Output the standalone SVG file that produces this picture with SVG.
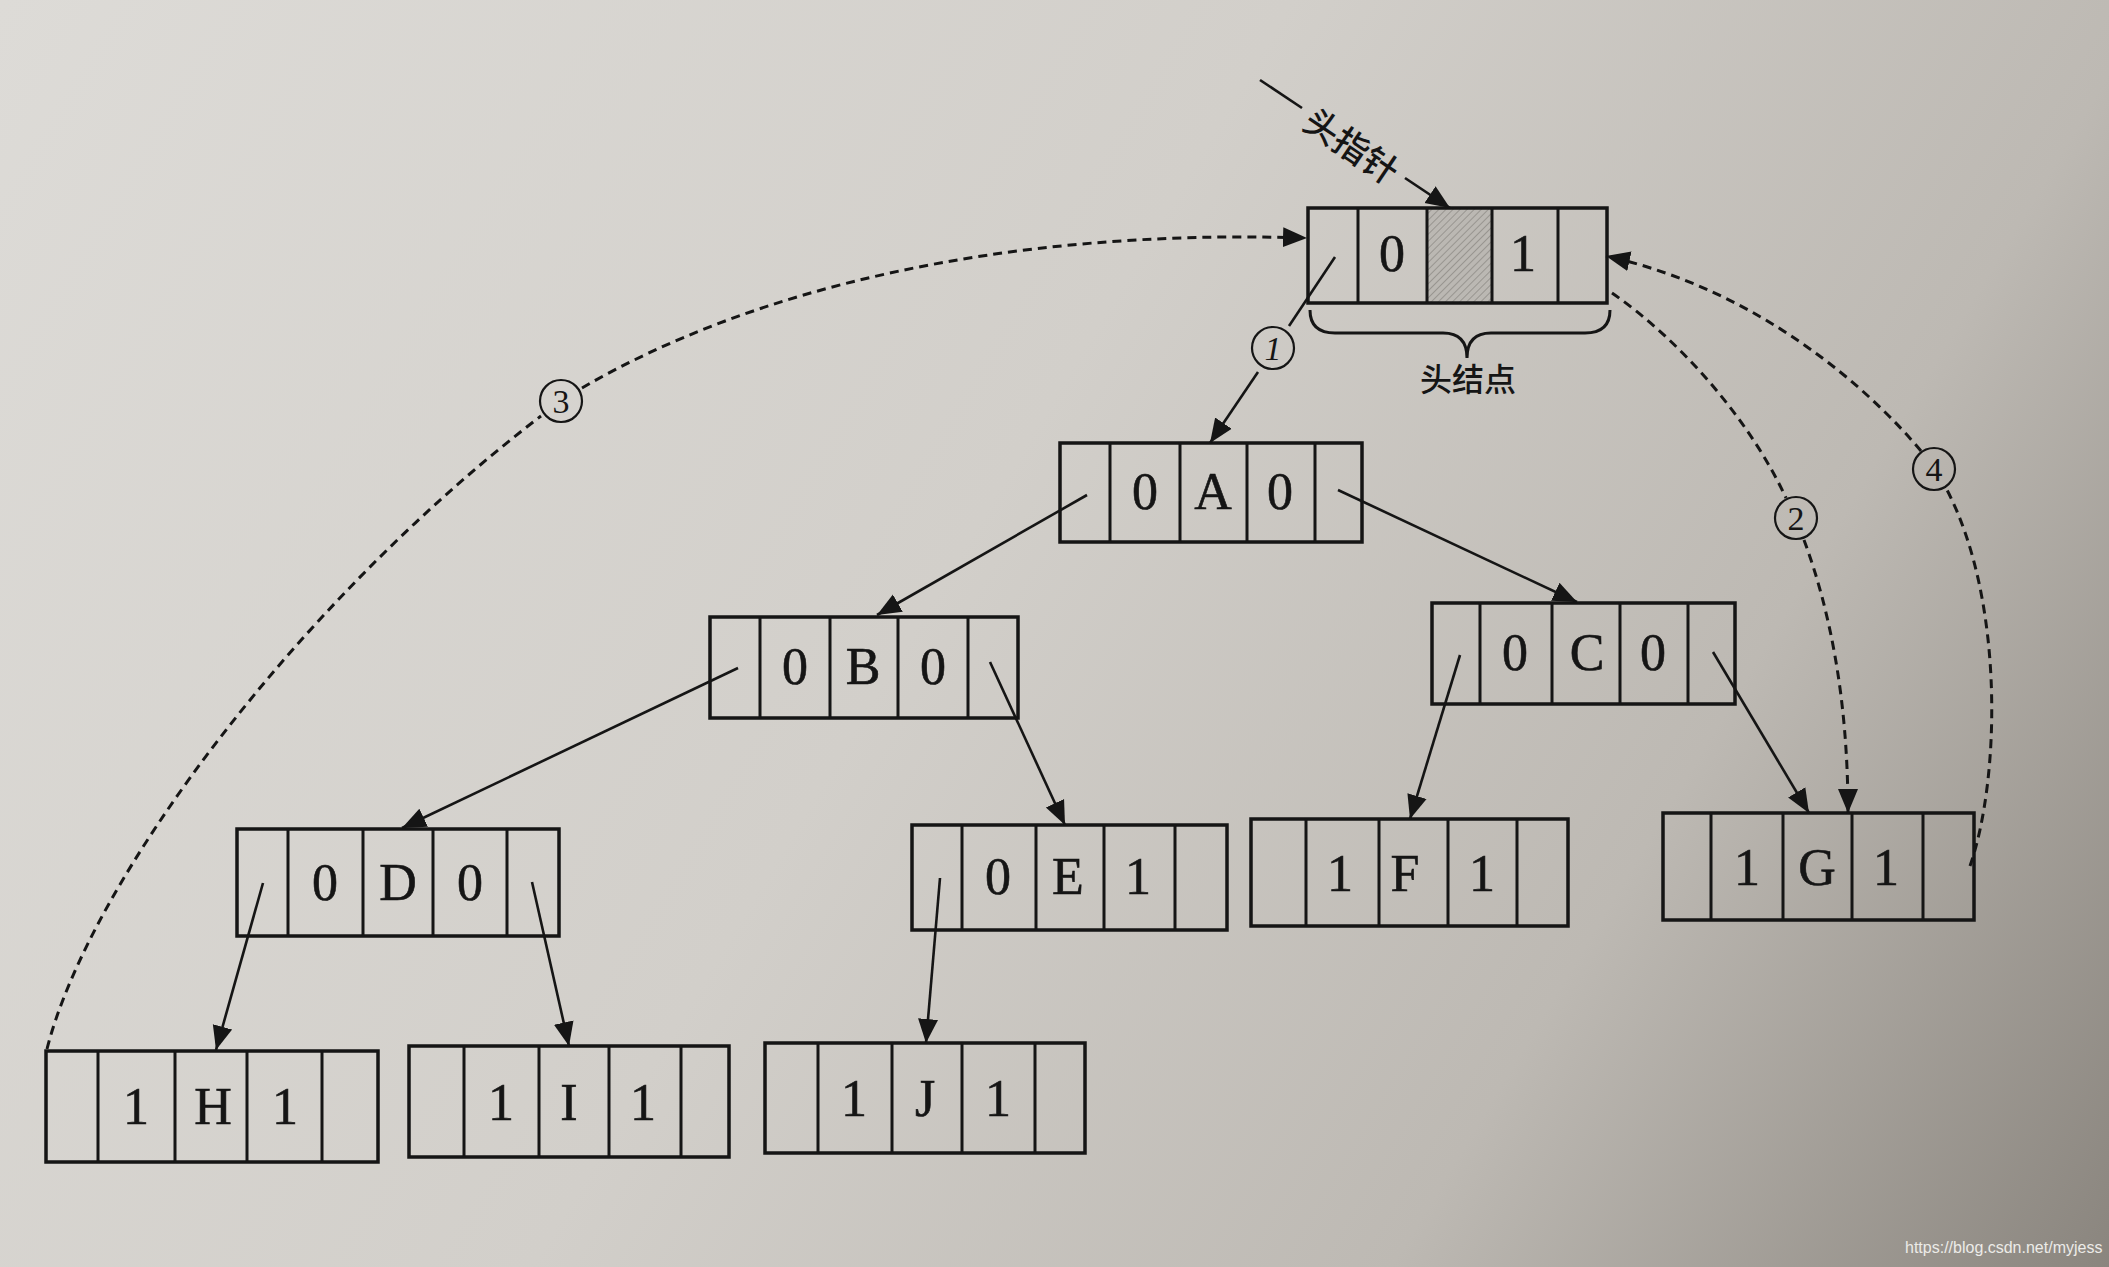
<svg xmlns="http://www.w3.org/2000/svg" width="2109" height="1267" viewBox="0 0 2109 1267">
<defs>
<linearGradient id="bg" gradientUnits="userSpaceOnUse" x1="0" y1="0" x2="2109" y2="1267">
<stop offset="0" stop-color="#dddbd7"/>
<stop offset="0.45" stop-color="#d2cfca"/>
<stop offset="0.75" stop-color="#bdb9b3"/>
<stop offset="1" stop-color="#8a857e"/>
</linearGradient>
<pattern id="hatch" patternUnits="userSpaceOnUse" width="5" height="5" patternTransform="rotate(45)">
<rect width="5" height="5" fill="#bbb8b3"/>
<line x1="0" y1="0" x2="0" y2="5" stroke="#8d8a85" stroke-width="1.5"/>
</pattern>
<marker id="ah" markerUnits="userSpaceOnUse" markerWidth="26" markerHeight="22" refX="24" refY="11" orient="auto">
<path d="M0,1 L24,11 L0,21 z" fill="#151515"/>
</marker>
</defs>
<style>
.box{fill:none;stroke:#151515;stroke-width:3.5}
.div{stroke:#151515;stroke-width:3;fill:none}
.v{font-family:"Liberation Serif","Times New Roman",serif;font-size:52px;fill:#151515;stroke:#151515;stroke-width:0.6;text-anchor:middle}
.edge{fill:none;stroke:#151515;stroke-width:2.6}
.thr{fill:none;stroke:#151515;stroke-width:3;stroke-dasharray:9 6}
.num circle{fill:none;stroke:#151515;stroke-width:2.2}
.num text{font-family:"Liberation Serif","Times New Roman",serif;font-size:34px;text-anchor:middle;fill:#151515}
.cjk{font-family:"Noto Sans CJK SC","Noto Sans",sans-serif;fill:#151515;text-anchor:middle;font-weight:500}
</style>
<rect width="2109" height="1267" fill="url(#bg)"/>

<g id="head">
<rect x="1427" y="208" width="65" height="95" fill="url(#hatch)"/>
<rect class="box" x="1308" y="208" width="299" height="95"/>
<path class="div" d="M1358,208V303M1427,208V303M1492,208V303M1558,208V303"/>
<text class="v" x="1392" y="271">0</text>
<text class="v" x="1523" y="271">1</text>
<path class="div" stroke-width="2.6" d="M1310,310 Q1310,333 1335,333 L1443,333 Q1467,333 1467,358 Q1467,333 1491,333 L1585,333 Q1610,333 1610,310"/>
<text class="cjk" x="1468" y="391" font-size="32">头结点</text>
</g>

<g id="head-pointer">
<line class="edge" x1="1260" y1="80" x2="1302" y2="108"/>
<line class="edge" x1="1405" y1="178" x2="1450" y2="208" marker-end="url(#ah)"/>
<text class="cjk" x="1353" y="144" font-size="35" font-weight="700" dominant-baseline="central" transform="rotate(34 1353 144)">头指针</text>
</g>

<g id="node-A">
<rect class="box" x="1060" y="443" width="302" height="99"/>
<path class="div" d="M1110,443V542M1180,443V542M1247,443V542M1315,443V542"/>
<text class="v" x="1145" y="509">0</text><text class="v" x="1213" y="509">A</text><text class="v" x="1280" y="509">0</text>
</g>
<g id="node-B">
<rect class="box" x="710" y="617" width="308" height="101"/>
<path class="div" d="M760,617V718M830,617V718M898,617V718M968,617V718"/>
<text class="v" x="795" y="684">0</text><text class="v" x="863" y="684">B</text><text class="v" x="933" y="684">0</text>
</g>
<g id="node-C">
<rect class="box" x="1432" y="603" width="303" height="101"/>
<path class="div" d="M1480,603V704M1552,603V704M1620,603V704M1688,603V704"/>
<text class="v" x="1515" y="670">0</text><text class="v" x="1587" y="670">C</text><text class="v" x="1653" y="670">0</text>
</g>
<g id="node-D">
<rect class="box" x="237" y="829" width="322" height="107"/>
<path class="div" d="M288,829V936M363,829V936M433,829V936M507,829V936"/>
<text class="v" x="325" y="900">0</text><text class="v" x="398" y="900">D</text><text class="v" x="470" y="900">0</text>
</g>
<g id="node-E">
<rect class="box" x="912" y="825" width="315" height="105"/>
<path class="div" d="M962,825V930M1036,825V930M1104,825V930M1175,825V930"/>
<text class="v" x="998" y="894">0</text><text class="v" x="1068" y="894">E</text><text class="v" x="1138" y="894">1</text>
</g>
<g id="node-F">
<rect class="box" x="1251" y="819" width="317" height="107"/>
<path class="div" d="M1306,819V926M1379,819V926M1448,819V926M1517,819V926"/>
<text class="v" x="1340" y="891">1</text><text class="v" x="1405" y="891">F</text><text class="v" x="1482" y="891">1</text>
</g>
<g id="node-G">
<rect class="box" x="1663" y="813" width="311" height="107"/>
<path class="div" d="M1711,813V920M1783,813V920M1852,813V920M1923,813V920"/>
<text class="v" x="1747" y="885">1</text><text class="v" x="1817" y="885">G</text><text class="v" x="1886" y="885">1</text>
</g>
<g id="node-H">
<rect class="box" x="46" y="1051" width="332" height="111"/>
<path class="div" d="M98,1051V1162M175,1051V1162M247,1051V1162M322,1051V1162"/>
<text class="v" x="136" y="1124">1</text><text class="v" x="213" y="1124">H</text><text class="v" x="285" y="1124">1</text>
</g>
<g id="node-I">
<rect class="box" x="409" y="1046" width="320" height="111"/>
<path class="div" d="M464,1046V1157M539,1046V1157M609,1046V1157M681,1046V1157"/>
<text class="v" x="501" y="1120">1</text><text class="v" x="569" y="1120">I</text><text class="v" x="643" y="1120">1</text>
</g>
<g id="node-J">
<rect class="box" x="765" y="1043" width="320" height="110"/>
<path class="div" d="M818,1043V1153M892,1043V1153M962,1043V1153M1035,1043V1153"/>
<text class="v" x="854" y="1116">1</text><text class="v" x="925" y="1116">J</text><text class="v" x="998" y="1116">1</text>
</g>

<g id="connectors">
<line class="edge" x1="1335" y1="257" x2="1289" y2="326"/>
<line class="edge" x1="1258" y1="372" x2="1210" y2="443" marker-end="url(#ah)"/>
<line class="edge" x1="1087" y1="495" x2="877" y2="615" marker-end="url(#ah)"/>
<line class="edge" x1="1338" y1="490" x2="1577" y2="602" marker-end="url(#ah)"/>
<line class="edge" x1="738" y1="668" x2="402" y2="828" marker-end="url(#ah)"/>
<line class="edge" x1="990" y1="662" x2="1065" y2="825" marker-end="url(#ah)"/>
<line class="edge" x1="1460" y1="655" x2="1410" y2="819" marker-end="url(#ah)"/>
<line class="edge" x1="1713" y1="652" x2="1809" y2="813" marker-end="url(#ah)"/>
<line class="edge" x1="263" y1="883" x2="216" y2="1050" marker-end="url(#ah)"/>
<line class="edge" x1="532" y1="882" x2="569" y2="1046" marker-end="url(#ah)"/>
<line class="edge" x1="940" y1="878" x2="926" y2="1043" marker-end="url(#ah)"/>
<path class="thr" d="M47,1049 C90,880 300,600 541,416"/>
<path class="thr" d="M582,388 C750,290 1000,228 1307,238" marker-end="url(#ah)"/>
<path class="thr" d="M1612,293 C1680,340 1750,420 1786,498"/>
<path class="thr" d="M1804,540 C1830,610 1848,700 1848,813" marker-end="url(#ah)"/>
<path class="thr" d="M1970,866 C2000,780 2005,600 1946,488"/>
<path class="thr" d="M1921,451 C1870,390 1760,290 1606,256" marker-end="url(#ah)"/>
</g>

<g id="label-1" class="num"><circle cx="1273" cy="348" r="21"/><text x="1273" y="360" font-style="italic">1</text></g>
<g id="label-2" class="num"><circle cx="1796" cy="518" r="21"/><text x="1796" y="530">2</text></g>
<g id="label-3" class="num"><circle cx="561" cy="401" r="21"/><text x="561" y="413">3</text></g>
<g id="label-4" class="num"><circle cx="1934" cy="469" r="21"/><text x="1934" y="481">4</text></g>

<text x="1905" y="1253" font-family="Liberation Sans, Arial, sans-serif" font-size="16" fill="#ecebe8">https://blog.csdn.net/myjess</text>
</svg>
